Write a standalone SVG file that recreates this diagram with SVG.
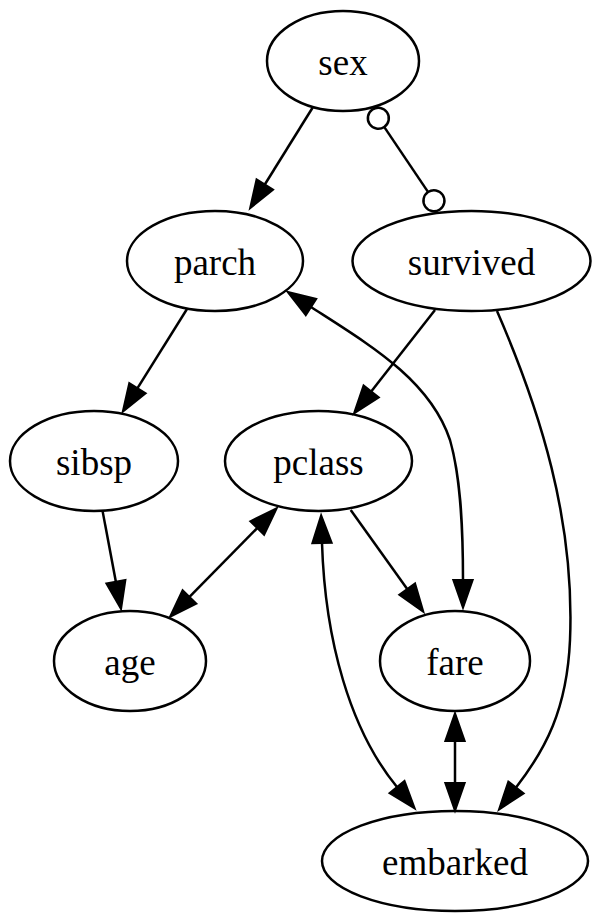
<svg xmlns="http://www.w3.org/2000/svg" width="601" height="922" viewBox="0 0 601 922">
<style>
.node ellipse{fill:none;stroke:#000;stroke-width:2.5}
.node text{font-family:"Liberation Serif","Times New Roman",serif;font-size:37px;text-anchor:middle;fill:#000}
.edge{fill:none;stroke:#000;stroke-width:2.5}
</style>
<defs>
<marker id="arr" viewBox="-2 -13 32 26" markerWidth="32" markerHeight="26" refX="0" refY="0" orient="auto-start-reverse" markerUnits="userSpaceOnUse" overflow="visible">
<path d="M0,-9.7 L27.8,0 L0,9.7 Z" fill="#000" stroke="#000" stroke-width="2" stroke-linejoin="miter"/>
</marker>
<marker id="odot" viewBox="-2 -13 26 26" markerWidth="26" markerHeight="26" refX="0" refY="0" orient="auto-start-reverse" markerUnits="userSpaceOnUse" overflow="visible">
<circle cx="11" cy="0" r="10.5" fill="#fff" stroke="#000" stroke-width="2.5"/>
</marker>
</defs>
<rect width="601" height="922" fill="#fff"/>
<g id="edges">
<path class="edge" d="M313,107 L264.8,184.5" marker-end="url(#arr)"/>
<path class="edge" d="M384.5,127.4 L427.8,191.6" marker-start="url(#odot)" marker-end="url(#odot)"/>
<path class="edge" d="M187,309 L137.5,388.2" marker-end="url(#arr)"/>
<path class="edge" d="M435,310 L371.2,391.4" marker-end="url(#arr)"/>
<path class="edge" d="M497,311 C540,410 575,520 570,640 C567,710 545,750 516,787.5" marker-end="url(#arr)"/>
<path class="edge" d="M311,307 C370,345 430,380 450,440 C460,475 463,520 463,580" marker-start="url(#arr)" marker-end="url(#arr)"/>
<path class="edge" d="M102.7,511.7 L115.9,581.7" marker-end="url(#arr)"/>
<path class="edge" d="M257.2,528.1 L189.5,596.9" marker-start="url(#arr)" marker-end="url(#arr)"/>
<path class="edge" d="M350.7,510 L407.2,589.1" marker-end="url(#arr)"/>
<path class="edge" d="M322,543 C325,640 350,730 397,787" marker-start="url(#arr)" marker-end="url(#arr)"/>
<path class="edge" d="M455,741 L455,783" marker-start="url(#arr)" marker-end="url(#arr)"/>
</g>
<g id="sex" class="node"><ellipse cx="343" cy="61" rx="76" ry="50"/><text x="343" y="75">sex</text></g>
<g id="parch" class="node"><ellipse cx="215" cy="261" rx="88" ry="50"/><text x="215" y="275">parch</text></g>
<g id="survived" class="node"><ellipse cx="471.5" cy="261" rx="119" ry="50"/><text x="471.5" y="275">survived</text></g>
<g id="sibsp" class="node"><ellipse cx="94" cy="461" rx="84" ry="50"/><text x="94" y="475">sibsp</text></g>
<g id="pclass" class="node"><ellipse cx="318.5" cy="461" rx="93.5" ry="50"/><text x="318.5" y="475">pclass</text></g>
<g id="age" class="node"><ellipse cx="130" cy="661" rx="76" ry="50"/><text x="130" y="675">age</text></g>
<g id="fare" class="node"><ellipse cx="455" cy="661" rx="75" ry="50"/><text x="455" y="675">fare</text></g>
<g id="embarked" class="node"><ellipse cx="455" cy="861" rx="133" ry="50"/><text x="455" y="875">embarked</text></g>
</svg>
